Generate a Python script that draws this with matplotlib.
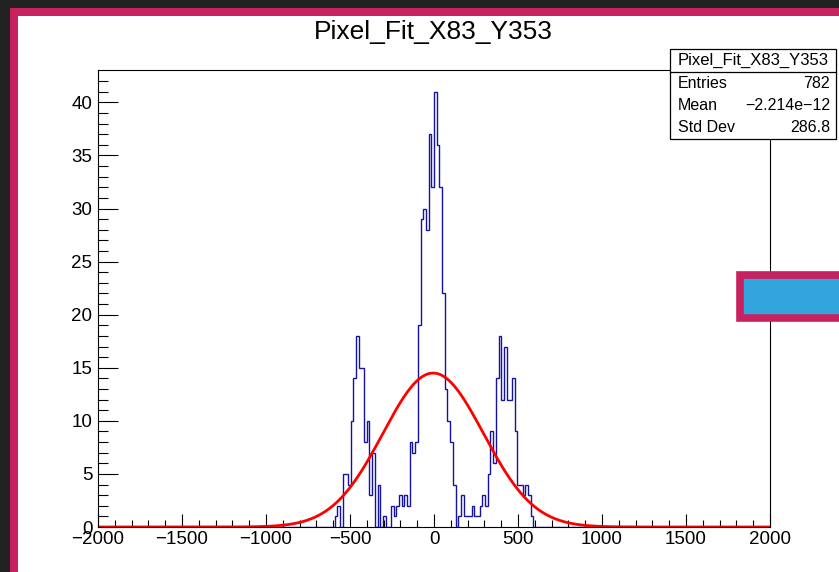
import numpy as np
import matplotlib.pyplot as plt
from matplotlib.patches import Rectangle
from matplotlib.lines import Line2D

plt.rcParams['font.family'] = ['Liberation Sans', 'DejaVu Sans']

W, H = 839, 572

hist_title = "Pixel_Fit_X83_Y353"

# histogram: 16 wide bins over -2000..2000, non-empty stretch starts at -608
first_edge = -608
bin_width = 16
counts = [
    0, 1, 2, 0, 5, 5, 4, 10, 14, 18, 15, 15, 8, 10, 3, 7, 0, 4, 0, 1,      # -608 .. -288
    0, 0, 2, 1, 2, 3, 2, 3, 2,                                            # -288 .. -144
    8, 7, 8, 19, 29, 30, 28, 37, 32, 41, 36, 32, 22, 13, 10, 8, 4,         # -144 .. 128
    0, 1, 3, 1, 1, 1, 2, 1, 1, 2,                                         # 128 .. 288
    3, 2, 5, 9, 6, 14, 18, 12, 17, 12, 12, 14, 9, 4, 4, 3, 4, 3, 1, 0,     # 288 .. 608
]

stat_names = ["Entries", "Mean", "Std Dev"]
stat_values = ["782", "\u22122.214e\u221212", "286.8"]

# gaussian fit drawn on top
fit_amp = 14.5
fit_mean = -5.0
fit_sigma = 300.0

x_min, x_max = -2000, 2000
y_max = 43.05


def fx(px):
    return px / W


def fy(py):
    return 1 - py / H


edges = np.arange(x_min, x_max + bin_width, bin_width)
full = np.zeros(len(edges) - 1)
start = (first_edge - x_min) // bin_width
full[start:start + len(counts)] = counts

fig = plt.figure(figsize=(W / 100, H / 100), dpi=100, facecolor='#222222')

# window frame: magenta border and white canvas
fig.add_artist(Rectangle((fx(10), 0), 1, fy(8), transform=fig.transFigure,
                         facecolor='#c8215f', edgecolor='none', zorder=-2))
fig.add_artist(Rectangle((fx(18), 0), 1, fy(16), transform=fig.transFigure,
                         facecolor='white', edgecolor='none', zorder=-1))

ax = fig.add_axes([fx(98), fy(527), fx(770) - fx(98), fy(70) - fy(527)])
ax.set_facecolor('white')

ax.stairs(full, edges, color='#1414a0', lw=1.0, baseline=0)

xs = np.linspace(x_min, x_max, 800)
ax.plot(xs, fit_amp * np.exp(-0.5 * ((xs - fit_mean) / fit_sigma) ** 2),
        color='#ff0000', lw=2.0)

ax.set_xlim(x_min, x_max)
ax.set_ylim(0, y_max)
ax.set_xticks(np.arange(x_min, x_max + 1, 500))
ax.set_xticks(np.arange(x_min, x_max + 1, 100), minor=True)
ax.set_yticks(np.arange(0, 41, 5))
ax.set_yticks(np.arange(0, 43, 1), minor=True)

ax.tick_params(which='both', direction='in', top=False, right=False,
               width=0.8, labelsize=13.5, colors='black')
ax.tick_params(axis='y', which='major', length=14.4, pad=4)
ax.tick_params(axis='y', which='minor', length=7.2)
ax.tick_params(axis='x', which='major', length=9.4, pad=3)
ax.tick_params(axis='x', which='minor', length=4.7)
for s in ax.spines.values():
    s.set_linewidth(0.8)

fig.text(fx(433), fy(32), hist_title, ha='center', va='center', fontsize=19)

# stats box
bx0, bx1, by0, by1, sep = 670, 836, 49, 139, 72
fig.add_artist(Rectangle((fx(bx0), fy(by1)), fx(bx1) - fx(bx0), fy(by0) - fy(by1),
                         transform=fig.transFigure, facecolor='white',
                         edgecolor='black', lw=0.9, zorder=5))
fig.add_artist(Line2D([fx(bx0), fx(bx1)], [fy(sep), fy(sep)],
                      transform=fig.transFigure, color='black', lw=0.9, zorder=6))
fig.text(fx((bx0 + bx1) / 2), fy(60.5), hist_title, ha='center', va='center',
         fontsize=12, zorder=7)
for i, (name, val) in enumerate(zip(stat_names, stat_values)):
    yy = fy(84 + 22 * i)
    fig.text(fx(678), yy, name, ha='left', va='center', fontsize=11.5, zorder=7)
    fig.text(fx(830), yy, val, ha='right', va='center', fontsize=11.5, zorder=7)

# blue button at the right edge
fig.add_artist(Rectangle((fx(740), fy(318)), 1, fy(275) - fy(318),
                         transform=fig.transFigure, facecolor='#34a4dc',
                         edgecolor='#c8215f', lw=5.5, zorder=5))

fig.savefig('out.png', dpi=100, facecolor=fig.get_facecolor())
